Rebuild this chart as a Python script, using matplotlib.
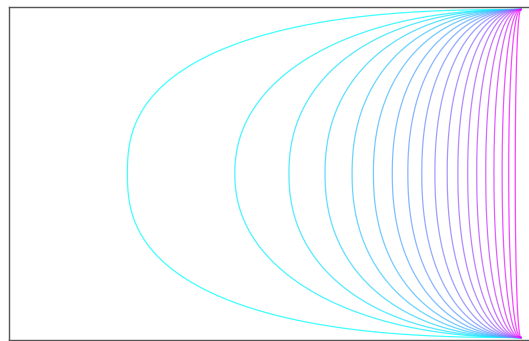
import numpy as np
import matplotlib
matplotlib.use("Agg")
import matplotlib.pyplot as plt

# Depth of each loop (how far it bulges left of the two anchor points),
# in units of the half-distance between the anchors.
depths = [2.40, 1.745, 1.415, 1.195, 1.03, 0.90, 0.785, 0.69, 0.605,
          0.525, 0.45, 0.385, 0.325, 0.27, 0.215, 0.165, 0.115, 0.075, 0.035]
# Squareness of each loop (2 = half ellipse, larger = boxier)
squareness = [2.5, 2.15, 2.2, 2.2, 2.2, 2.2, 2.2, 2.2, 2.2,
              2.2, 2.2, 2.2, 2.2, 2.2, 2.2, 2.2, 2.2, 2.2, 2.2]

fig = plt.figure(figsize=(5.29, 3.41), dpi=100)
ax = fig.add_axes([9 / 529, 1 / 341, 524 / 529, 333 / 341])

cmap = plt.get_cmap("cool")
t = np.linspace(0, np.pi, 800)
n = len(depths)
for i, (d, p) in enumerate(zip(depths, squareness)):
    x = -d * np.abs(np.sin(t)) ** (2 / p)
    y = np.sign(np.cos(t)) * np.abs(np.cos(t)) ** (2 / p)
    ax.plot(x, y, color=cmap(i / (n - 1)), lw=0.9, alpha=0.75)

ax.set_xlim(-512 / 164, 12 / 164)
ax.set_ylim(-1.015, 1.015)
ax.set_xticks([])
ax.set_yticks([])
for s in ax.spines.values():
    s.set_color("#555555")
    s.set_linewidth(1.0)

fig.savefig("out.png", dpi=100)
